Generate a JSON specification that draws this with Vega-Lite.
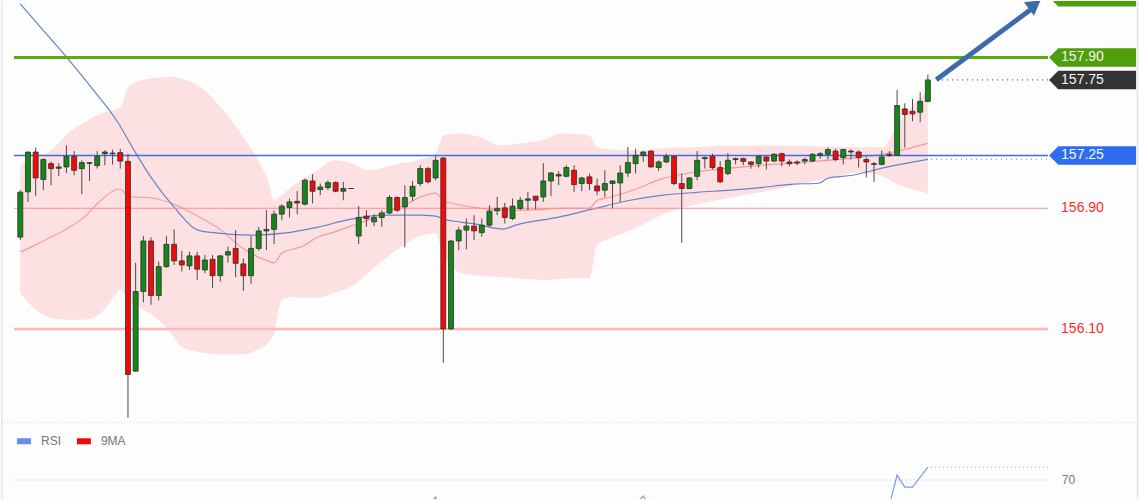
{
 "$schema": "https://vega.github.io/schema/vega-lite/v6.json",
 "width": 1140, "height": 500,
 "autosize": {"type": "fit", "contains": "padding"},
 "padding": 0,
 "background": "#fcfdfc",
 "config": {"view": {"stroke": null}, "text": {"font": "Liberation Sans"}, "scale": {"continuousPadding": 0}},
 "datasets": {
  "candles": [
   {"i":0,"o":156.709,"h":157.020,"l":156.689,"c":157.007},
   {"i":1,"o":157.009,"h":157.273,"l":156.942,"c":157.273},
   {"i":2,"o":157.273,"h":157.302,"l":156.982,"c":157.101},
   {"i":3,"o":157.091,"h":157.231,"l":157.020,"c":157.223},
   {"i":4,"o":157.196,"h":157.211,"l":157.053,"c":157.163},
   {"i":5,"o":157.165,"h":157.200,"l":157.112,"c":157.174},
   {"i":6,"o":157.174,"h":157.317,"l":157.134,"c":157.244},
   {"i":7,"o":157.244,"h":157.279,"l":157.119,"c":157.152},
   {"i":8,"o":157.163,"h":157.218,"l":156.993,"c":157.203},
   {"i":9,"o":157.198,"h":157.207,"l":157.081,"c":157.203},
   {"i":10,"o":157.183,"h":157.279,"l":157.163,"c":157.244},
   {"i":11,"o":157.262,"h":157.284,"l":157.185,"c":157.273},
   {"i":12,"o":157.262,"h":157.289,"l":157.190,"c":157.266},
   {"i":13,"o":157.269,"h":157.295,"l":157.163,"c":157.213},
   {"i":14,"o":157.211,"h":157.262,"l":155.511,"c":155.798},
   {"i":15,"o":155.820,"h":156.539,"l":155.815,"c":156.348},
   {"i":16,"o":156.348,"h":156.717,"l":156.275,"c":156.683},
   {"i":17,"o":156.683,"h":156.707,"l":156.260,"c":156.321},
   {"i":18,"o":156.321,"h":156.546,"l":156.288,"c":156.513},
   {"i":19,"o":156.513,"h":156.715,"l":156.504,"c":156.661},
   {"i":20,"o":156.661,"h":156.760,"l":156.524,"c":156.551},
   {"i":21,"o":156.551,"h":156.617,"l":156.480,"c":156.524},
   {"i":22,"o":156.518,"h":156.612,"l":156.491,"c":156.584},
   {"i":23,"o":156.584,"h":156.612,"l":156.425,"c":156.496},
   {"i":24,"o":156.491,"h":156.590,"l":156.469,"c":156.557},
   {"i":25,"o":156.562,"h":156.590,"l":156.370,"c":156.453},
   {"i":26,"o":156.453,"h":156.590,"l":156.414,"c":156.584},
   {"i":27,"o":156.590,"h":156.645,"l":156.539,"c":156.612},
   {"i":28,"o":156.634,"h":156.755,"l":156.443,"c":156.535},
   {"i":29,"o":156.531,"h":156.568,"l":156.352,"c":156.453},
   {"i":30,"o":156.453,"h":156.715,"l":156.399,"c":156.634},
   {"i":31,"o":156.634,"h":156.777,"l":156.618,"c":156.750},
   {"i":32,"o":156.750,"h":156.887,"l":156.623,"c":156.760},
   {"i":33,"o":156.760,"h":156.883,"l":156.663,"c":156.861},
   {"i":34,"o":156.861,"h":156.927,"l":156.821,"c":156.914},
   {"i":35,"o":156.905,"h":156.964,"l":156.839,"c":156.942},
   {"i":36,"o":156.946,"h":157.015,"l":156.861,"c":156.935},
   {"i":37,"o":156.927,"h":157.097,"l":156.920,"c":157.086},
   {"i":38,"o":157.081,"h":157.125,"l":156.932,"c":157.013},
   {"i":39,"o":157.024,"h":157.064,"l":156.987,"c":157.041},
   {"i":40,"o":157.037,"h":157.086,"l":157.020,"c":157.070},
   {"i":41,"o":157.070,"h":157.079,"l":157.007,"c":157.013},
   {"i":42,"o":157.013,"h":157.075,"l":156.953,"c":157.031},
   {"i":43,"o":157.031,"h":157.031,"l":157.031,"c":157.031},
   {"i":44,"o":156.716,"h":156.914,"l":156.663,"c":156.839},
   {"i":45,"o":156.848,"h":156.887,"l":156.777,"c":156.832},
   {"i":46,"o":156.810,"h":156.861,"l":156.782,"c":156.839},
   {"i":47,"o":156.839,"h":156.887,"l":156.777,"c":156.869},
   {"i":48,"o":156.869,"h":156.987,"l":156.861,"c":156.971},
   {"i":49,"o":156.971,"h":156.980,"l":156.876,"c":156.887},
   {"i":50,"o":156.909,"h":157.053,"l":156.641,"c":156.971},
   {"i":51,"o":156.980,"h":157.081,"l":156.949,"c":157.046},
   {"i":52,"o":157.064,"h":157.185,"l":157.046,"c":157.163},
   {"i":53,"o":157.163,"h":157.174,"l":157.064,"c":157.075},
   {"i":54,"o":157.101,"h":157.244,"l":157.086,"c":157.218},
   {"i":55,"o":157.233,"h":157.240,"l":155.875,"c":156.100},
   {"i":56,"o":156.100,"h":156.689,"l":156.095,"c":156.683},
   {"i":57,"o":156.683,"h":156.777,"l":156.623,"c":156.755},
   {"i":58,"o":156.755,"h":156.832,"l":156.628,"c":156.782},
   {"i":59,"o":156.782,"h":156.854,"l":156.689,"c":156.750},
   {"i":60,"o":156.738,"h":156.832,"l":156.711,"c":156.788},
   {"i":61,"o":156.788,"h":156.920,"l":156.777,"c":156.881},
   {"i":62,"o":156.883,"h":156.975,"l":156.854,"c":156.899},
   {"i":63,"o":156.903,"h":156.936,"l":156.799,"c":156.839},
   {"i":64,"o":156.832,"h":156.964,"l":156.821,"c":156.914},
   {"i":65,"o":156.899,"h":156.975,"l":156.887,"c":156.953},
   {"i":66,"o":156.953,"h":157.008,"l":156.887,"c":156.962},
   {"i":67,"o":156.980,"h":156.980,"l":156.892,"c":156.953},
   {"i":68,"o":156.975,"h":157.200,"l":156.942,"c":157.081},
   {"i":69,"o":157.081,"h":157.141,"l":156.980,"c":157.134},
   {"i":70,"o":157.123,"h":157.145,"l":157.053,"c":157.114},
   {"i":71,"o":157.112,"h":157.185,"l":157.105,"c":157.170},
   {"i":72,"o":157.152,"h":157.185,"l":157.008,"c":157.057},
   {"i":73,"o":157.064,"h":157.108,"l":157.013,"c":157.101},
   {"i":74,"o":157.108,"h":157.130,"l":157.020,"c":157.064},
   {"i":75,"o":157.048,"h":157.097,"l":156.987,"c":157.015},
   {"i":76,"o":157.020,"h":157.152,"l":156.975,"c":157.064},
   {"i":77,"o":157.064,"h":157.086,"l":156.899,"c":157.081},
   {"i":78,"o":157.068,"h":157.185,"l":156.942,"c":157.134},
   {"i":79,"o":157.134,"h":157.306,"l":157.108,"c":157.203},
   {"i":80,"o":157.196,"h":157.295,"l":157.130,"c":157.251},
   {"i":81,"o":157.251,"h":157.279,"l":157.207,"c":157.273},
   {"i":82,"o":157.279,"h":157.284,"l":157.170,"c":157.174},
   {"i":83,"o":157.170,"h":157.218,"l":157.147,"c":157.207},
   {"i":84,"o":157.207,"h":157.262,"l":157.200,"c":157.244},
   {"i":85,"o":157.244,"h":157.251,"l":157.053,"c":157.064},
   {"i":86,"o":157.064,"h":157.130,"l":156.671,"c":157.031},
   {"i":87,"o":157.031,"h":157.108,"l":157.026,"c":157.101},
   {"i":88,"o":157.112,"h":157.279,"l":157.086,"c":157.218},
   {"i":89,"o":157.229,"h":157.244,"l":157.163,"c":157.236},
   {"i":90,"o":157.244,"h":157.262,"l":157.157,"c":157.170},
   {"i":91,"o":157.170,"h":157.213,"l":157.068,"c":157.075},
   {"i":92,"o":157.130,"h":157.266,"l":157.119,"c":157.218},
   {"i":93,"o":157.223,"h":157.236,"l":157.191,"c":157.229},
   {"i":94,"o":157.229,"h":157.236,"l":157.185,"c":157.211},
   {"i":95,"o":157.207,"h":157.213,"l":157.163,"c":157.191},
   {"i":96,"o":157.196,"h":157.251,"l":157.170,"c":157.244},
   {"i":97,"o":157.240,"h":157.246,"l":157.157,"c":157.213},
   {"i":98,"o":157.213,"h":157.266,"l":157.207,"c":157.258},
   {"i":99,"o":157.262,"h":157.269,"l":157.178,"c":157.213},
   {"i":100,"o":157.207,"h":157.223,"l":157.178,"c":157.196},
   {"i":101,"o":157.207,"h":157.218,"l":157.185,"c":157.200},
   {"i":102,"o":157.213,"h":157.236,"l":157.191,"c":157.223},
   {"i":103,"o":157.213,"h":157.266,"l":157.207,"c":157.258},
   {"i":104,"o":157.251,"h":157.273,"l":157.229,"c":157.262},
   {"i":105,"o":157.258,"h":157.302,"l":157.223,"c":157.289},
   {"i":106,"o":157.279,"h":157.295,"l":157.213,"c":157.223},
   {"i":107,"o":157.236,"h":157.295,"l":157.191,"c":157.289},
   {"i":108,"o":157.279,"h":157.291,"l":157.223,"c":157.273},
   {"i":109,"o":157.273,"h":157.284,"l":157.170,"c":157.236},
   {"i":110,"o":157.223,"h":157.238,"l":157.104,"c":157.207},
   {"i":111,"o":157.196,"h":157.207,"l":157.075,"c":157.191},
   {"i":112,"o":157.191,"h":157.284,"l":157.185,"c":157.240},
   {"i":113,"o":157.258,"h":157.279,"l":157.240,"c":157.251},
   {"i":114,"o":157.251,"h":157.685,"l":157.251,"c":157.581},
   {"i":115,"o":157.559,"h":157.596,"l":157.302,"c":157.522},
   {"i":116,"o":157.543,"h":157.625,"l":157.477,"c":157.526},
   {"i":117,"o":157.537,"h":157.669,"l":157.471,"c":157.609},
   {"i":118,"o":157.609,"h":157.786,"l":157.603,"c":157.751}
  ],
  "bands": [
   {"i":0,"U":157.185,"L":156.339,"M":156.610},
   {"i":2,"U":157.231,"L":156.227,"M":156.657},
   {"i":4,"U":157.284,"L":156.174,"M":156.709},
   {"i":6.2,"U":157.396,"L":156.161,"M":156.768},
   {"i":8.3,"U":157.469,"L":156.161,"M":156.841},
   {"i":10.5,"U":157.528,"L":156.207,"M":156.953},
   {"i":12.7,"U":157.561,"L":156.346,"M":157.026},
   {"i":13,"U":157.568,"L":156.359,"M":157.026},
   {"i":14,"U":157.700,"L":156.293,"M":156.980},
   {"i":14.8,"U":157.733,"L":156.260,"M":156.973},
   {"i":16.1,"U":157.753,"L":156.227,"M":156.973},
   {"i":17.9,"U":157.766,"L":156.161,"M":156.960},
   {"i":19.6,"U":157.772,"L":156.075,"M":156.934},
   {"i":20.9,"U":157.759,"L":155.983,"M":156.907},
   {"i":23.5,"U":157.700,"L":155.943,"M":156.835},
   {"i":26.1,"U":157.568,"L":155.930,"M":156.755},
   {"i":28.7,"U":157.396,"L":155.930,"M":156.643},
   {"i":30.9,"U":157.218,"L":155.963,"M":156.577},
   {"i":32.2,"U":157.086,"L":156.009,"M":156.551},
   {"i":33,"U":156.953,"L":156.075,"M":156.538},
   {"i":34,"U":156.987,"L":156.293,"M":156.603},
   {"i":35.5,"U":157.053,"L":156.313,"M":156.630},
   {"i":36.5,"U":157.086,"L":156.306,"M":156.643},
   {"i":38.7,"U":157.152,"L":156.306,"M":156.709},
   {"i":40.8,"U":157.218,"L":156.339,"M":156.742},
   {"i":43,"U":157.198,"L":156.379,"M":156.782},
   {"i":45.2,"U":157.152,"L":156.471,"M":156.821},
   {"i":47.2,"U":157.171,"L":156.557,"M":156.868},
   {"i":49.5,"U":157.198,"L":156.643,"M":156.907},
   {"i":51.7,"U":157.218,"L":156.709,"M":156.967},
   {"i":54,"U":157.264,"L":156.735,"M":157.000},
   {"i":55,"U":157.383,"L":156.590,"M":156.953},
   {"i":57.3,"U":157.396,"L":156.471,"M":156.920},
   {"i":59.9,"U":157.370,"L":156.451,"M":156.900},
   {"i":62.4,"U":157.317,"L":156.445,"M":156.887},
   {"i":65,"U":157.330,"L":156.432,"M":156.887},
   {"i":68.6,"U":157.363,"L":156.425,"M":156.894},
   {"i":70.2,"U":157.396,"L":156.432,"M":156.900},
   {"i":74,"U":157.383,"L":156.438,"M":156.900},
   {"i":75,"U":157.304,"L":156.656,"M":156.953},
   {"i":76.7,"U":157.290,"L":156.702,"M":156.973},
   {"i":80,"U":157.284,"L":156.768,"M":157.026},
   {"i":83.2,"U":157.297,"L":156.854,"M":157.092},
   {"i":87.5,"U":157.304,"L":156.920,"M":157.138},
   {"i":91.9,"U":157.317,"L":156.967,"M":157.165},
   {"i":96.2,"U":157.317,"L":157.006,"M":157.185},
   {"i":100.1,"U":157.317,"L":157.046,"M":157.198},
   {"i":104.9,"U":157.310,"L":157.099,"M":157.218},
   {"i":109.2,"U":157.304,"L":157.138,"M":157.238},
   {"i":112.1,"U":157.304,"L":157.112,"M":157.258},
   {"i":114,"U":157.449,"L":157.059,"M":157.277},
   {"i":116,"U":157.581,"L":157.026,"M":157.304},
   {"i":118,"U":157.680,"L":157.000,"M":157.330}
  ],
  "ma": [
   {"i":0,"v":158.255},{"i":2.7,"v":158.096},{"i":6.2,"v":157.891},{"i":9.57,"v":157.680},
   {"i":12.7,"v":157.469},{"i":14.8,"v":157.284},{"i":17,"v":157.105},{"i":20,"v":156.907},
   {"i":23.1,"v":156.755},{"i":25.7,"v":156.735},{"i":30,"v":156.722},{"i":34.3,"v":156.735},
   {"i":38.7,"v":156.775},{"i":43,"v":156.828},{"i":47.2,"v":156.854},{"i":51.7,"v":156.854},
   {"i":54,"v":156.848},{"i":55,"v":156.828},{"i":57.3,"v":156.808},{"i":59.2,"v":156.795},
   {"i":62.8,"v":156.762},{"i":64.4,"v":156.788},{"i":70,"v":156.841},{"i":74.4,"v":156.894},
   {"i":79.3,"v":156.953},{"i":83.6,"v":156.987},{"i":88,"v":157.006},{"i":92.3,"v":157.020},
   {"i":96.6,"v":157.039},{"i":100.1,"v":157.059},{"i":103.8,"v":157.066},{"i":105,"v":157.099},
   {"i":108.2,"v":157.119},{"i":112.5,"v":157.171},{"i":118,"v":157.224}
  ],
  "levels": [
   {"p":157.90,"kind":"res1"},{"p":157.25,"kind":"pivot"},{"p":156.90,"kind":"sup1"},{"p":156.10,"kind":"sup2"}
  ],
  "labels": [
   {"p":158.30,"kind":"res2","txt":"158.30"},
   {"p":157.90,"kind":"res1","txt":"157.90"},
   {"p":157.75,"kind":"last","txt":"157.75"},
   {"p":157.25,"kind":"pivot","txt":"157.25"},
   {"p":156.90,"kind":"sup1","txt":"156.90"},
   {"p":156.10,"kind":"sup2","txt":"156.10"}
  ],
  "rsi": [
   {"i":0,"r":45},{"i":14,"r":30},{"i":30,"r":42},{"i":44,"r":48},{"i":52,"r":50},{"i":53,"r":50.5},
   {"i":54,"r":57.9},{"i":55,"r":28},{"i":65,"r":46},{"i":79,"r":51},{"i":80,"r":52},{"i":81,"r":58.6},
   {"i":82,"r":50},{"i":86,"r":38},{"i":100,"r":50},{"i":112,"r":50},{"i":113,"r":52},{"i":114,"r":73.6},
   {"i":115,"r":65},{"i":116,"r":65},{"i":117,"r":72.1},{"i":118,"r":79.3}
  ]
 },
 "layer": [
  {"layer": [
   {"data": {"name": "bands"}, "mark": {"type": "area", "interpolate": "monotone", "fill": "#fde0e2", "clip": true},
    "encoding": {"x": {"field": "i", "type": "quantitative", "scale": {"domain": [-2.507, 145.58], "nice": false, "zero": false, "padding": 0}, "axis": null},
     "y": {"field": "U", "type": "quantitative", "scale": {"domain": [154.972, 158.2745], "nice": false, "zero": false}, "axis": null}, "y2": {"field": "L"}}},
   {"data": {"values": [{"i": -2.38}, {"i": 145.26}]}, "mark": {"type": "rule", "stroke": "#dfe5ec", "strokeWidth": 1.5},
    "encoding": {"x": {"field": "i", "type": "quantitative", "scale": {"domain": [-2.507, 145.58], "nice": false, "zero": false, "padding": 0}, "axis": null}}},
   {"data": {"values": [{"p": 155.48}]}, "mark": {"type": "rule", "stroke": "#d6dde6", "strokeDash": [1, 2]},
    "encoding": {"x": {"datum": -2.5, "type": "quantitative", "scale": {"domain": [-2.507, 145.58], "nice": false, "zero": false, "padding": 0}, "axis": null}, "x2": {"datum": 145.5},
     "y": {"field": "p", "type": "quantitative", "scale": {"domain": [154.972, 158.2745], "nice": false, "zero": false}, "axis": null}}},
   {"data": {"name": "bands"}, "mark": {"type": "line", "interpolate": "monotone", "stroke": "#f5999c", "strokeWidth": 1.2, "clip": true},
    "encoding": {"x": {"field": "i", "type": "quantitative", "scale": {"domain": [-2.507, 145.58], "nice": false, "zero": false, "padding": 0}, "axis": null},
     "y": {"field": "M", "type": "quantitative", "scale": {"domain": [154.972, 158.2745], "nice": false, "zero": false}, "axis": null}}},
   {"data": {"name": "ma"}, "mark": {"type": "line", "interpolate": "monotone", "stroke": "#6584c4", "strokeWidth": 1.2, "clip": true},
    "encoding": {"x": {"field": "i", "type": "quantitative", "scale": {"domain": [-2.507, 145.58], "nice": false, "zero": false, "padding": 0}, "axis": null},
     "y": {"field": "v", "type": "quantitative", "scale": {"domain": [154.972, 158.2745], "nice": false, "zero": false}, "axis": null}}},
   {"data": {"name": "levels"}, "mark": {"type": "rule"},
    "encoding": {"x": {"datum": -0.82, "type": "quantitative", "scale": {"domain": [-2.507, 145.58], "nice": false, "zero": false, "padding": 0}, "axis": null}, "x2": {"datum": 133.63},
     "y": {"field": "p", "type": "quantitative", "scale": {"domain": [154.972, 158.2745], "nice": false, "zero": false}, "axis": null},
     "color": {"condition": [{"test": "datum.kind == 'res1'", "value": "#5aab16"}, {"test": "datum.kind == 'pivot'", "value": "#3d6fe2"}, {"test": "datum.kind == 'sup1'", "value": "#ff8d8d"}], "value": "#ffb8b8"},
     "strokeWidth": {"condition": [{"test": "datum.kind == 'res1'", "value": 3}, {"test": "datum.kind == 'pivot'", "value": 1.5}, {"test": "datum.kind == 'sup1'", "value": 1.2}], "value": 2.5}}},
   {"data": {"values": [{"p": 157.751}]}, "mark": {"type": "rule", "stroke": "#555555", "strokeWidth": 1.2, "strokeDash": [1, 4]},
    "encoding": {"x": {"datum": 119.2, "type": "quantitative", "scale": {"domain": [-2.507, 145.58], "nice": false, "zero": false, "padding": 0}, "axis": null}, "x2": {"datum": 133.63},
     "y": {"field": "p", "type": "quantitative", "scale": {"domain": [154.972, 158.2745], "nice": false, "zero": false}, "axis": null}}},
   {"data": {"values": [{"p": 157.224}]}, "mark": {"type": "rule", "stroke": "#8aa2d6", "strokeWidth": 1.2, "strokeDash": [1, 4]},
    "encoding": {"x": {"datum": 118.4, "type": "quantitative", "scale": {"domain": [-2.507, 145.58], "nice": false, "zero": false, "padding": 0}, "axis": null}, "x2": {"datum": 133.63},
     "y": {"field": "p", "type": "quantitative", "scale": {"domain": [154.972, 158.2745], "nice": false, "zero": false}, "axis": null}}},
   {"data": {"name": "candles"}, "mark": {"type": "rule", "stroke": "#4a4a4a", "strokeWidth": 1},
    "encoding": {"x": {"field": "i", "type": "quantitative", "scale": {"domain": [-2.507, 145.58], "nice": false, "zero": false, "padding": 0}, "axis": null},
     "y": {"field": "h", "type": "quantitative", "scale": {"domain": [154.972, 158.2745], "nice": false, "zero": false}, "axis": null}, "y2": {"field": "l"}}},
   {"data": {"name": "candles"}, "mark": {"type": "bar", "size": 5, "stroke": "#2e2e2e", "strokeWidth": 0.8},
    "encoding": {"x": {"field": "i", "type": "quantitative", "scale": {"domain": [-2.507, 145.58], "nice": false, "zero": false, "padding": 0}, "axis": null},
     "y": {"field": "o", "type": "quantitative", "scale": {"domain": [154.972, 158.2745], "nice": false, "zero": false, "padding": 0}, "axis": null}, "y2": {"field": "c"},
     "color": {"condition": {"test": "datum.c >= datum.o", "value": "#14861a"}, "value": "#f20a0a"}}},
   {"data": {"values": [{"i": 119.1, "p": 157.753}, {"i": 131.3, "p": 158.215}]}, "mark": {"type": "line", "stroke": "#3d6aa8", "strokeWidth": 5, "strokeCap": "butt", "clip": true},
    "encoding": {"x": {"field": "i", "type": "quantitative", "scale": {"domain": [-2.507, 145.58], "nice": false, "zero": false, "padding": 0}, "axis": null},
     "y": {"field": "p", "type": "quantitative", "scale": {"domain": [154.972, 158.2745], "nice": false, "zero": false}, "axis": null}}},
   {"data": {"values": [{"i": 131.9, "p": 158.25}]}, "mark": {"type": "point", "shape": "triangle-up", "filled": true, "size": 280, "angle": 53, "color": "#3d6aa8", "opacity": 1, "clip": true},
    "encoding": {"x": {"field": "i", "type": "quantitative", "scale": {"domain": [-2.507, 145.58], "nice": false, "zero": false, "padding": 0}, "axis": null},
     "y": {"field": "p", "type": "quantitative", "scale": {"domain": [154.972, 158.2745], "nice": false, "zero": false}, "axis": null}}},
   {"data": {"name": "labels"}, "transform": [{"filter": "datum.kind != 'sup1' && datum.kind != 'sup2'"}],
    "mark": {"type": "point", "shape": "M -1 0 L -0.79 -0.213 L 1 -0.213 L 1 0.213 L -0.79 0.213 Z", "size": 7569, "filled": true, "opacity": 1, "clip": true},
    "encoding": {"x": {"datum": 139.414, "type": "quantitative", "scale": {"domain": [-2.507, 145.58], "nice": false, "zero": false, "padding": 0}, "axis": null},
     "y": {"field": "p", "type": "quantitative", "scale": {"domain": [154.972, 158.2745], "nice": false, "zero": false}, "axis": null},
     "color": {"condition": [{"test": "datum.kind == 'last'", "value": "#333333"}, {"test": "datum.kind == 'pivot'", "value": "#2f6df0"}], "value": "#4f9e0b"}}},
   {"data": {"name": "labels"}, "transform": [{"filter": "datum.kind == 'res1' || datum.kind == 'last' || datum.kind == 'pivot'"}],
    "mark": {"type": "text", "align": "left", "baseline": "middle", "fontSize": 14, "fill": "#f4f4f4", "clip": true},
    "encoding": {"x": {"datum": 135.32, "type": "quantitative", "scale": {"domain": [-2.507, 145.58], "nice": false, "zero": false, "padding": 0}, "axis": null},
     "y": {"field": "p", "type": "quantitative", "scale": {"domain": [154.972, 158.2745], "nice": false, "zero": false}, "axis": null}, "text": {"field": "txt"}}},
   {"data": {"name": "labels"}, "transform": [{"filter": "datum.kind == 'sup1' || datum.kind == 'sup2'"}],
    "mark": {"type": "text", "align": "left", "baseline": "middle", "fontSize": 14, "fill": "#ff2b2b"},
    "encoding": {"x": {"datum": 135.32, "type": "quantitative", "scale": {"domain": [-2.507, 145.58], "nice": false, "zero": false, "padding": 0}, "axis": null},
     "y": {"field": "p", "type": "quantitative", "scale": {"domain": [154.972, 158.2745], "nice": false, "zero": false}, "axis": null}, "text": {"field": "txt"}}},
   {"data": {"values": [{"name": "RSI"}]}, "mark": {"type": "rule", "stroke": "#6b8ee6", "strokeWidth": 6},
    "encoding": {"x": {"datum": -0.43, "type": "quantitative", "scale": {"domain": [-2.507, 145.58], "nice": false, "zero": false, "padding": 0}, "axis": null}, "x2": {"datum": 1.39},
     "y": {"datum": 155.355, "type": "quantitative", "scale": {"domain": [154.972, 158.2745], "nice": false, "zero": false}, "axis": null}}},
   {"data": {"values": [{"name": "9MA"}]}, "mark": {"type": "rule", "stroke": "#f20a0a", "strokeWidth": 6},
    "encoding": {"x": {"datum": 7.37, "type": "quantitative", "scale": {"domain": [-2.507, 145.58], "nice": false, "zero": false, "padding": 0}, "axis": null}, "x2": {"datum": 9.18},
     "y": {"datum": 155.355, "type": "quantitative", "scale": {"domain": [154.972, 158.2745], "nice": false, "zero": false}, "axis": null}}},
   {"data": {"values": [{"name": "RSI"}]}, "mark": {"type": "text", "align": "left", "baseline": "middle", "fontSize": 12, "fill": "#777777"},
    "encoding": {"x": {"datum": 2.69, "type": "quantitative", "scale": {"domain": [-2.507, 145.58], "nice": false, "zero": false, "padding": 0}, "axis": null},
     "y": {"datum": 155.355, "type": "quantitative", "scale": {"domain": [154.972, 158.2745], "nice": false, "zero": false}, "axis": null}, "text": {"field": "name"}}},
   {"data": {"values": [{"name": "9MA"}]}, "mark": {"type": "text", "align": "left", "baseline": "middle", "fontSize": 12, "fill": "#777777"},
    "encoding": {"x": {"datum": 10.48, "type": "quantitative", "scale": {"domain": [-2.507, 145.58], "nice": false, "zero": false, "padding": 0}, "axis": null},
     "y": {"datum": 155.355, "type": "quantitative", "scale": {"domain": [154.972, 158.2745], "nice": false, "zero": false}, "axis": null}, "text": {"field": "name"}}}
  ]},
  {"layer": [
   {"data": {"values": [{"r": 70}]}, "mark": {"type": "rule", "stroke": "#b4b4b4", "strokeDash": [1, 3]},
    "encoding": {"x": {"datum": -0.82, "type": "quantitative", "scale": {"domain": [-2.507, 145.58], "nice": false, "zero": false, "padding": 0}, "axis": null}, "x2": {"datum": 133.63},
     "y": {"field": "r", "type": "quantitative", "scale": {"domain": [56.43, 413.57], "nice": false, "zero": false}, "axis": null}}},
   {"data": {"values": [{"r": 79.3}]}, "mark": {"type": "rule", "stroke": "#93aef0", "strokeDash": [1, 3]},
    "encoding": {"x": {"datum": 118.4, "type": "quantitative", "scale": {"domain": [-2.507, 145.58], "nice": false, "zero": false, "padding": 0}, "axis": null}, "x2": {"datum": 133.63},
     "y": {"field": "r", "type": "quantitative", "scale": {"domain": [56.43, 413.57], "nice": false, "zero": false}, "axis": null}}},
   {"data": {"name": "rsi"}, "mark": {"type": "line", "stroke": "#7a9bef", "strokeWidth": 1.2, "clip": true},
    "encoding": {"x": {"field": "i", "type": "quantitative", "scale": {"domain": [-2.507, 145.58], "nice": false, "zero": false, "padding": 0}, "axis": null},
     "y": {"field": "r", "type": "quantitative", "scale": {"domain": [56.43, 413.57], "nice": false, "zero": false}, "axis": null}}},
   {"data": {"values": [{"r": 70, "t": "70"}]}, "mark": {"type": "text", "align": "left", "baseline": "middle", "fontSize": 12, "fill": "#777777"},
    "encoding": {"x": {"datum": 135.4, "type": "quantitative", "scale": {"domain": [-2.507, 145.58], "nice": false, "zero": false, "padding": 0}, "axis": null},
     "y": {"field": "r", "type": "quantitative", "scale": {"domain": [56.43, 413.57], "nice": false, "zero": false}, "axis": null}, "text": {"field": "t"}}}
  ]}
 ],
 "resolve": {"scale": {"y": "independent"}}
}
